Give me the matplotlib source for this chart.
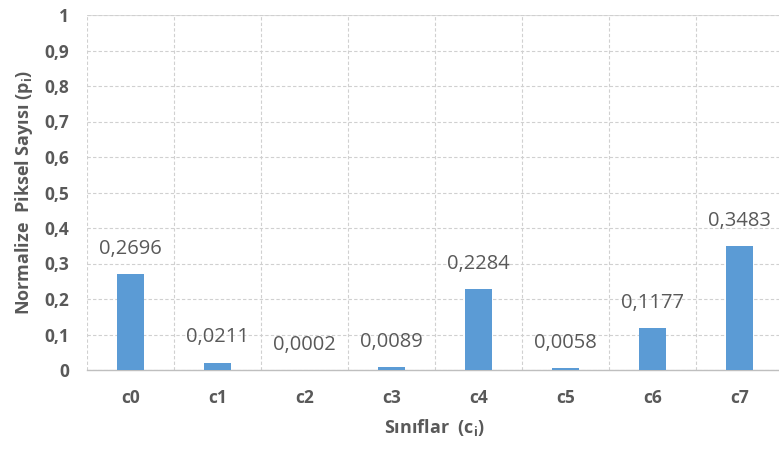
import matplotlib
matplotlib.use("Agg")
import matplotlib.pyplot as plt
from matplotlib.ticker import FuncFormatter

categories = ["c0", "c1", "c2", "c3", "c4", "c5", "c6", "c7"]
values = [0.2696, 0.0211, 0.0002, 0.0089, 0.2284, 0.0058, 0.1177, 0.3483]
y_ticks = [0, 0.1, 0.2, 0.3, 0.4, 0.5, 0.6, 0.7, 0.8, 0.9, 1]

plt.rcParams['font.family'] = ['Open Sans', 'DejaVu Sans']
plt.rcParams['mathtext.fontset'] = 'custom'
plt.rcParams['mathtext.rm'] = 'Open Sans'
plt.rcParams['mathtext.it'] = 'Open Sans'
plt.rcParams['mathtext.bf'] = 'Open Sans:bold'

text_color = "#595959"
bar_color = "#5B9BD5"
grid_color = "#D0D0D0"

fig = plt.figure(figsize=(7.79, 4.5), dpi=100)
ax = fig.add_axes([87 / 779, 80 / 450, 696 / 779, 355 / 450])

x = list(range(len(categories)))
ax.bar(x, values, width=0.3, color=bar_color, zorder=3)

for xi, v in zip(x, values):
    ax.annotate(f"{v:.4f}".replace(".", ","), (xi, v), xytext=(0, 11),
                textcoords="offset points", ha="center", va="bottom",
                fontsize=14.5, color=text_color)

ax.set_xlim(-0.5, len(categories) - 0.5)
ax.set_ylim(0, 1)
ax.set_yticks(y_ticks)
ax.yaxis.set_major_formatter(FuncFormatter(lambda v, p: f"{v:g}".replace(".", ",")))
ax.set_xticks(x)
ax.set_xticklabels(categories)

# category boundary lines
ax.set_xticks([i + 0.5 for i in range(-1, len(categories))], minor=True)
ax.grid(True, which="minor", axis="x", color=grid_color, linestyle=(0, (3, 2)), linewidth=0.8, zorder=0)
ax.grid(True, which="major", axis="y", color=grid_color, linestyle=(0, (3, 2)), linewidth=0.8, zorder=0)

for s in ["top", "right", "left"]:
    ax.spines[s].set_visible(False)
ax.spines["bottom"].set_color("#BFBFBF")
ax.spines["bottom"].set_linewidth(1.0)
ax.axhline(1, color="#DDDDDD", linewidth=0.8, zorder=0)

ax.tick_params(axis="both", which="both", length=0)
ax.tick_params(axis="y", pad=13, labelsize=12.5, labelcolor=text_color)
ax.tick_params(axis="x", pad=14, labelsize=12.5, labelcolor=text_color)
for lbl in ax.get_xticklabels() + ax.get_yticklabels():
    lbl.set_fontweight("bold")

ax.set_ylabel(r"Normalize  Piksel Sayısı (p$_\mathbf{i}$)", fontsize=13,
              fontweight="bold", color=text_color)
ax.set_xlabel(r"Sınıflar  (c$_\mathbf{i}$)", fontsize=13,
              fontweight="bold", color=text_color)
ax.xaxis.set_label_coords((434 - 87) / 696, -(417 - 370) / 355)
ax.yaxis.set_label_coords(-(87 - 35) / 696, 0.5)

fig.savefig("out.png", dpi=100)
